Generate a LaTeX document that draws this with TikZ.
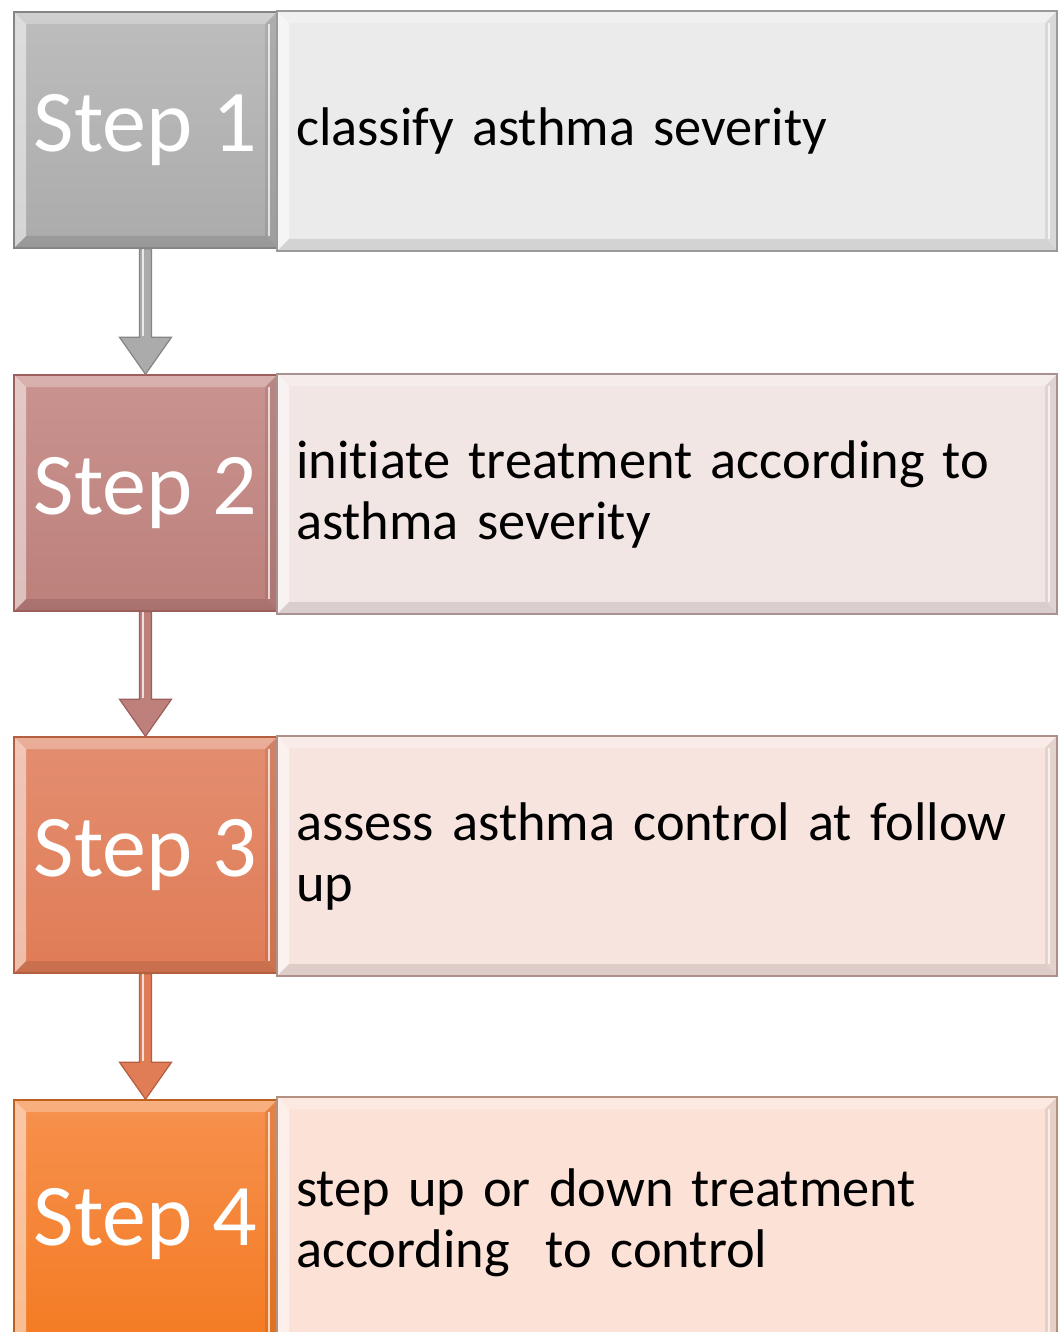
\documentclass[tikz,border=0pt]{standalone}
\usepackage{fontspec}
\setmainfont[Ligatures=NoCommon]{Carlito}
\usetikzlibrary{calc}
\definecolor{sA}{HTML}{ABABAB}\definecolor{sAt}{HTML}{BDBDBD}\definecolor{sAd}{HTML}{858585}
\definecolor{sB}{HTML}{BD807B}\definecolor{sBt}{HTML}{C9938F}\definecolor{sBd}{HTML}{9C5F5B}
\definecolor{sC}{HTML}{E07C56}\definecolor{sCt}{HTML}{E38E70}\definecolor{sCd}{HTML}{B35E3E}
\definecolor{sD}{HTML}{F47A22}\definecolor{sDt}{HTML}{F6914E}\definecolor{sDd}{HTML}{C0601E}
\definecolor{tA}{HTML}{EBEBEB}\definecolor{tAd}{HTML}{9A9A9A}
\definecolor{tB}{HTML}{F2E6E5}\definecolor{tBd}{HTML}{A89290}
\definecolor{tC}{HTML}{F8E4DF}\definecolor{tCd}{HTML}{AE9088}
\definecolor{tD}{HTML}{FCE1D6}\definecolor{tDd}{HTML}{B49080}
\tikzset{
  bevel/.style={path picture={
    \fill[white,opacity=0.5] (path picture bounding box.north west) -- (path picture bounding box.south west) -- ([shift={(6pt,6pt)}]path picture bounding box.south west) -- ([shift={(6pt,-6pt)}]path picture bounding box.north west) -- cycle;
    \fill[white,opacity=0.28] (path picture bounding box.north west) -- (path picture bounding box.north east) -- ([shift={(-6pt,-6pt)}]path picture bounding box.north east) -- ([shift={(6pt,-6pt)}]path picture bounding box.north west) -- cycle;
    \fill[black,opacity=0.08] (path picture bounding box.north east) -- (path picture bounding box.south east) -- ([shift={(-6pt,6pt)}]path picture bounding box.south east) -- ([shift={(-6pt,-6pt)}]path picture bounding box.north east) -- cycle;
    \draw[white,opacity=0.7,line width=1pt] ([shift={(-4pt,-6pt)}]path picture bounding box.north east) -- ([shift={(-4pt,6pt)}]path picture bounding box.south east);
    \fill[black,opacity=0.10] (path picture bounding box.south west) -- (path picture bounding box.south east) -- ([shift={(-6pt,6pt)}]path picture bounding box.south east) -- ([shift={(6pt,6pt)}]path picture bounding box.south west) -- cycle;
  }},
  stepbox/.style={rectangle, bevel, minimum width=131.5pt, minimum height=118pt, inner sep=0pt, line width=0.75pt, text=white, font=\fontsize{44}{50}\selectfont},
  descbox/.style={rectangle, bevel, minimum width=390pt, minimum height=120pt, inner xsep=9.5pt, inner ysep=0pt, text width=371pt, align=left, line width=0.75pt, text=black, font=\fontsize{27.2}{30.5}\selectfont},
  flowarrow/.style={line width=0.6pt, line join=miter}
}
\newcommand\flowconn[4]{%
  \filldraw[flowarrow, fill=#3, draw=#4] let \p1=(#1.south), \p2=(#2.north) in
    (\x1-3pt,\y1) -- (\x1-3pt,\y2+18.5pt) -- (\x1-13pt,\y2+18.5pt) -- (\x1,\y2) -- (\x1+13pt,\y2+18.5pt) -- (\x1+3pt,\y2+18.5pt) -- (\x1+3pt,\y1) -- cycle;
  \draw[white,opacity=0.75,line width=1pt] let \p1=(#1.south), \p2=(#2.north) in (\x1-1.3pt,\y1) -- (\x1-1.3pt,\y2+19pt);
}
\begin{document}
\begin{tikzpicture}[x=0.5pt,y=-0.5pt]
\useasboundingbox (0,0) rectangle (1059,1332);
\clip (0,0) rectangle (1059,1332);
\fill[white] (0,0) rectangle (1059,1332);

\node[stepbox, top color=sAt, bottom color=sA, draw=sAd] (s1) at (145.5,130) {Step 1};
\node[stepbox, top color=sBt, bottom color=sB, draw=sBd] (s2) at (145.5,493) {Step 2};
\node[stepbox, top color=sCt, bottom color=sC, draw=sCd] (s3) at (145.5,855) {Step 3};
\node[stepbox, top color=sDt, bottom color=sD, draw=sDd, minimum height=124pt] (s4) at (145.5,1224) {\raisebox{6pt}{Step 4}};

\node[descbox, fill=tA, draw=tAd] (d1) at (667,131) {classify asthma severity};
\node[descbox, fill=tB, draw=tBd] (d2) at (667,494) {initiate treatment according to\\asthma severity};
\node[descbox, fill=tC, draw=tCd] (d3) at (667,856) {assess asthma control at follow\\up};
\node[descbox, fill=tD, draw=tDd, minimum height=126pt] (d4) at (667,1223) {\raisebox{6pt}{\parbox[c]{371pt}{step up or down treatment\\according\ \ to control}}};

\flowconn{s1}{s2}{sA}{sAd}
\flowconn{s2}{s3}{sB}{sBd}
\flowconn{s3}{s4}{sC}{sCd}
\end{tikzpicture}
\end{document}
